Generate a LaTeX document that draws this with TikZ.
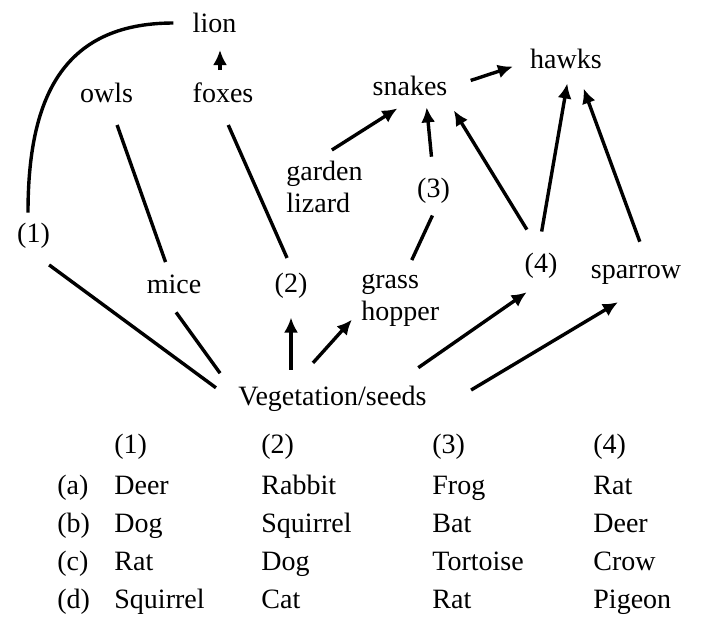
\documentclass[tikz,border=0pt]{standalone}
\usepackage{fontspec}
\setmainfont{Liberation Serif}
\usepackage{tikz}
\usetikzlibrary{arrows.meta}

\begin{document}
\begin{tikzpicture}[x=0.5pt,y=-0.5pt,
		font=\fontsize{14}{16}\selectfont,
		taxon/.style={inner sep=0pt,text height=9.5pt,text depth=2.5pt},
		cell/.style={inner sep=0pt,anchor=base west},
		link/.style={line width=1.7pt},
		feeds/.style={link,-{Latex[length=7.5pt,width=7pt]}}]
		\useasboundingbox (0,0) rectangle (710,629);
		
		% food web
		\node[taxon] (lion) at (214.5,25) {lion};
		\node[taxon] (owls) at (106.5,95) {owls};
		\node[taxon] (foxes) at (223,95) {foxes};
		\node[taxon] (snakes) at (410,88) {snakes};
		\node[taxon] (hawks) at (566,61) {hawks};
		\node[inner sep=0pt,anchor=north west,align=left] (lizard) at (286,161) {garden\\lizard};
		\node[taxon] (three) at (433.5,190) {(3)};
		\node[taxon] (one) at (33.5,235) {(1)};
		\node[taxon] (mice) at (174,286) {mice};
		\node[taxon] (two) at (291,285) {(2)};
		\node[inner sep=0pt,anchor=north west,align=left] (hopper) at (361,274) {grass\\hopper};
		\node[taxon] (four) at (541,265) {(4)};
		\node[taxon] (sparrow) at (636,271) {sparrow};
		\node[taxon] (veg) at (332.5,398) {Vegetation/seeds};
		
		\draw[link] ([xshift=-2.75pt,yshift=5pt]one.north) to[out=90,in=180,looseness=1.2] ([xshift=-9.5pt,yshift=1pt]lion.west);
		\draw[feeds,shorten <=12.5pt,shorten >=12.5pt] ([xshift=-1.5pt]foxes.center) -- ([xshift=2.75pt]lion.center);
		\draw[link,shorten <=15.9pt,shorten >=12.7pt] (owls.center) -- (mice.center);
		\draw[link,shorten <=16.4pt,shorten >=14.8pt] ([xshift=-4pt]foxes.center) -- ([xshift=4pt]two.center);
		\draw[link,shorten <=9.7pt,shorten >=13.7pt] ([yshift=-3pt]one.south) -- ([yshift=-3pt]veg.west);
		\draw[link,shorten <=8.6pt,shorten >=15.3pt] ([xshift=-4pt]mice.south) -- (veg.west);
		\draw[feeds,shorten <=8pt,shorten >=16.25pt] (two.center |- veg.north) -- (two.center);
		\draw[feeds,shorten <=15.3pt,shorten >=6.8pt] ([xshift=-20pt]veg.north) -- ([yshift=-4.5pt]hopper.west);
		\draw[feeds,shorten <=10.3pt,shorten >=7.5pt] ([xshift=-5pt]lizard.north) -- (snakes.south);
		\draw[feeds,shorten <=12.1pt,shorten >=8.9pt] (snakes.east) -- (hawks.west);
		\draw[feeds,shorten <=10.5pt,shorten >=3.5pt] (three.north) -- ([xshift=8pt]snakes.south);
		\draw[link,shorten <=7.2pt,shorten >=7.7pt] ([xshift=2.5pt]three.south) -- ([xshift=2.5pt]hopper.north);
		\draw[feeds,shorten <=13.5pt,shorten >=5.9pt] (four.north) -- (snakes.south east);
		\draw[feeds,shorten <=10.7pt,shorten >=5.1pt] ([xshift=-1.5pt]four.north) -- ([xshift=1.5pt]hawks.south);
		\draw[feeds,shorten <=9pt,shorten >=8pt] ([xshift=5pt]sparrow.north) -- ([xshift=6pt]hawks.south);
		\draw[feeds,shorten <=15.7pt,shorten >=13pt] ([xshift=30pt]veg.north) -- ([xshift=3.5pt]four.south);
		\draw[feeds,shorten <=25.7pt,shorten >=10.5pt] ([yshift=-3pt]veg.south east) -- ([yshift=-4pt]sparrow.south);
		
		% answer table
		\node[cell] (h1) at (114,453) {(1)};
		\node[cell] (h2) at (261,453) {(2)};
		\node[cell] (h3) at (432,453) {(3)};
		\node[cell] (h4) at (593,453) {(4)};
		\foreach \lab/\pa/\pb/\pc/\pd [count=\r] in {a/Deer/Rabbit/Frog/Rat, b/Dog/Squirrel/Bat/Deer, c/Rat/Dog/Tortoise/Crow, d/Squirrel/Cat/Rat/Pigeon}
		{
			\node[cell] (opt\r) at (57,456+38*\r) {(\lab)};
			\node[cell] (opt\r a) at (114,456+38*\r) {\pa};
			\node[cell] (opt\r b) at (261,456+38*\r) {\pb};
			\node[cell] (opt\r c) at (432,456+38*\r) {\pc};
			\node[cell] (opt\r d) at (593,456+38*\r) {\pd};
		}
		
\end{tikzpicture}
\end{document}
